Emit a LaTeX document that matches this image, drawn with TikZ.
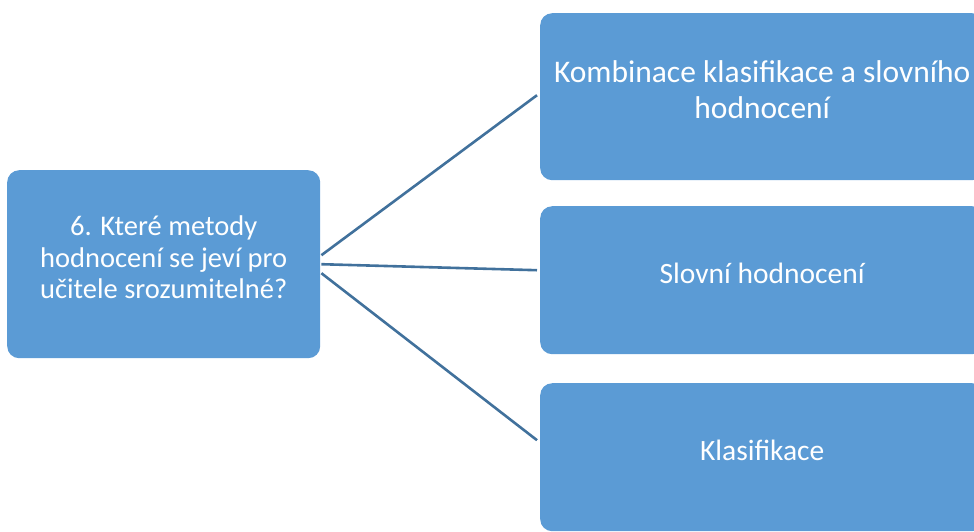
\documentclass[tikz,border=0pt]{standalone}
\usepackage{fontspec}
\setmainfont{Carlito}
\usetikzlibrary{calc}
\definecolor{boxblue}{HTML}{5B9BD5}
\definecolor{linkblue}{HTML}{41719C}
\tikzset{
  blockbox/.style={fill=boxblue, draw=none, rounded corners=12pt, text=white, align=center, inner sep=0pt, anchor=north west, text depth=14pt},
  link/.style={draw=linkblue, line width=2.6pt},
}
\begin{document}
\begin{tikzpicture}[x=1pt,y=-1pt]
\useasboundingbox (0,0) rectangle (974,531);
\begin{scope}
\clip (0,0) rectangle (974,531);
\node[blockbox, minimum width=313pt, minimum height=188pt, font=\fontsize{28.5}{31.7}\selectfont] (L) at (7,170) {6. Které metody\\hodnocení se jeví pro\\učitele srozumitelné?};
\node[blockbox, minimum width=444pt, minimum height=167pt, font=\fontsize{31.5}{36.5}\selectfont] (T) at (540,13) {Kombinace klasifikace a slovního\\hodnocení};
\node[blockbox, minimum width=444pt, minimum height=148pt, font=\fontsize{29.5}{36}\selectfont] (M) at (540,206) {Slovní hodnocení};
\node[blockbox, minimum width=444pt, minimum height=148pt, font=\fontsize{29.5}{36}\selectfont] (B) at (540,383) {Klasifikace};
\end{scope}
\draw[link] ($(L.east)+(1,-9)$) -- ($(T.west)+(-3,-1.5)$);
\draw[link] ($(L.east)+(1,0)$) -- ($(M.west)+(-3,-10)$);
\draw[link] ($(L.east)+(1,9)$) -- ($(B.west)+(-3,-17)$);
\end{tikzpicture}
\end{document}
